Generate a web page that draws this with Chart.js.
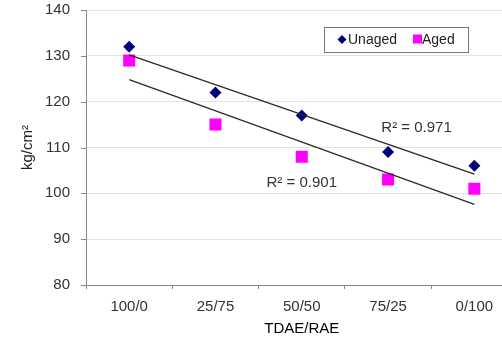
<!DOCTYPE html>
<html>
<head>
<meta charset="utf-8">
<script src="https://cdn.jsdelivr.net/npm/chart.js@4/dist/chart.umd.min.js"></script>
<style>
    html, body { margin: 0; padding: 0; background: #fff; overflow: hidden; }
    #wrap { width: 526px; height: 342px; }
</style>
</head>
<body>
<div id="wrap"><canvas id="tensileChart"></canvas></div>
<script>
// Data
const ratios = ["100/0", "25/75", "50/50", "75/25", "0/100"];
const unaged = [132, 122, 117, 109, 106];
const aged = [129, 115, 108, 103, 101];
// linear trend lines (end points)
const unagedTrend = [130.2, null, null, null, 104.2];
const agedTrend = [124.8, null, null, null, 97.6];
const yTicks = [80, 90, 100, 110, 120, 130, 140];

const FONT = "'Liberation Sans', Arial, sans-serif";

//////////////////////////////////
// Legend box, R² labels, short y tick marks
//////////////////////////////////
const overlayPlugin = {
    id: "overlay",
    afterDraw(chart) {
        const ctx = chart.ctx;
        const x = chart.scales.x, y = chart.scales.y;
        const left = chart.chartArea.left;
        ctx.save();

        // y tick marks (5px, outside the axis)
        ctx.strokeStyle = "#888";
        ctx.lineWidth = 1;
        yTicks.forEach(v => {
            const py = Math.round(y.getPixelForValue(v)) + 0.5;
            ctx.beginPath();
            ctx.moveTo(left - 5, py);
            ctx.lineTo(left, py);
            ctx.stroke();
        });

        // R² labels
        ctx.font = "15px " + FONT;
        ctx.fillStyle = "#333";
        ctx.textAlign = "center";
        ctx.textBaseline = "middle";
        ctx.fillText("R² = 0.971", x.getPixelForValue(3.33), y.getPixelForValue(114.3));
        ctx.fillText("R² = 0.901", x.getPixelForValue(2.0), y.getPixelForValue(102.2));

        // legend box
        const bx = 324, by = 27, bw = 144, bh = 25;
        ctx.fillStyle = "#fff";
        ctx.fillRect(bx, by, bw, bh);
        ctx.strokeStyle = "#777";
        ctx.strokeRect(bx + 0.5, by + 0.5, bw, bh);

        const cy = by + bh / 2;
        // diamond
        ctx.fillStyle = "#000080";
        ctx.beginPath();
        ctx.moveTo(342, cy - 4.5);
        ctx.lineTo(346.5, cy);
        ctx.lineTo(342, cy + 4.5);
        ctx.lineTo(337.5, cy);
        ctx.closePath();
        ctx.fill();
        // square
        ctx.fillStyle = "#ff00ff";
        ctx.fillRect(413, cy - 5, 9, 9);

        ctx.font = "14px " + FONT;
        ctx.fillStyle = "#222";
        ctx.textAlign = "left";
        ctx.fillText("Unaged", 348, cy + 1);
        ctx.fillText("Aged", 422, cy + 1);
        ctx.restore();
    }
};

document.addEventListener("DOMContentLoaded", function() {
    const ctx = document.getElementById("tensileChart").getContext("2d");
    new Chart(ctx, {
        type: "line",
        data: {
            labels: ratios,
            datasets: [
                {
                    label: "Unaged trend",
                    data: unagedTrend,
                    borderColor: "#2a2a2a",
                    borderWidth: 1.3,
                    pointRadius: 0,
                    spanGaps: true,
                    fill: false
                },
                {
                    label: "Aged trend",
                    data: agedTrend,
                    borderColor: "#2a2a2a",
                    borderWidth: 1.3,
                    pointRadius: 0,
                    spanGaps: true,
                    fill: false
                },
                {
                    label: "Unaged",
                    data: unaged,
                    showLine: false,
                    pointStyle: "rectRot",
                    pointRadius: 6,
                    backgroundColor: "#000080",
                    borderColor: "#000080",
                    borderWidth: 0
                },
                {
                    label: "Aged",
                    data: aged,
                    showLine: false,
                    pointStyle: "rect",
                    pointRadius: 8.5,
                    backgroundColor: "#ff00ff",
                    borderColor: "#ff00ff",
                    borderWidth: 0
                }
            ]
        },
        options: {
            responsive: true,
            maintainAspectRatio: false,
            animation: false,
            layout: { padding: { top: 10, left: 19, right: 0, bottom: 4 } },
            plugins: {
                legend: { display: false },
                tooltip: { enabled: false }
            },
            scales: {
                x: {
                    offset: true,
                    grid: {
                        offset: true,
                        drawOnChartArea: false,
                        drawTicks: true,
                        tickLength: 4,
                        color: "#888"
                    },
                    border: { color: "#888", width: 1 },
                    ticks: {
                        color: "#333",
                        font: { family: FONT, size: 15 },
                        padding: 9,
                        maxRotation: 0
                    },
                    title: {
                        display: true,
                        text: "TDAE/RAE",
                        color: "#000",
                        font: { family: FONT, size: 15 },
                        padding: { top: -5, bottom: 0 }
                    }
                },
                y: {
                    min: 80,
                    max: 140,
                    afterBuildTicks: axis => {
                        axis.ticks = yTicks.map(v => ({ value: v }));
                    },
                    grid: {
                        color: "#e2e2e2",
                        tickColor: "rgba(0,0,0,0)",
                        tickLength: 16,
                        drawTicks: true
                    },
                    border: { color: "#888", width: 1 },
                    ticks: {
                        color: "#333",
                        font: { family: FONT, size: 15 },
                        padding: 0
                    },
                    title: {
                        display: true,
                        text: "kg/cm²",
                        color: "#222",
                        font: { family: FONT, size: 15 },
                        padding: { top: 0, bottom: 8 }
                    }
                }
            }
        },
        plugins: [overlayPlugin]
    });
});
</script>
</body>
</html>
